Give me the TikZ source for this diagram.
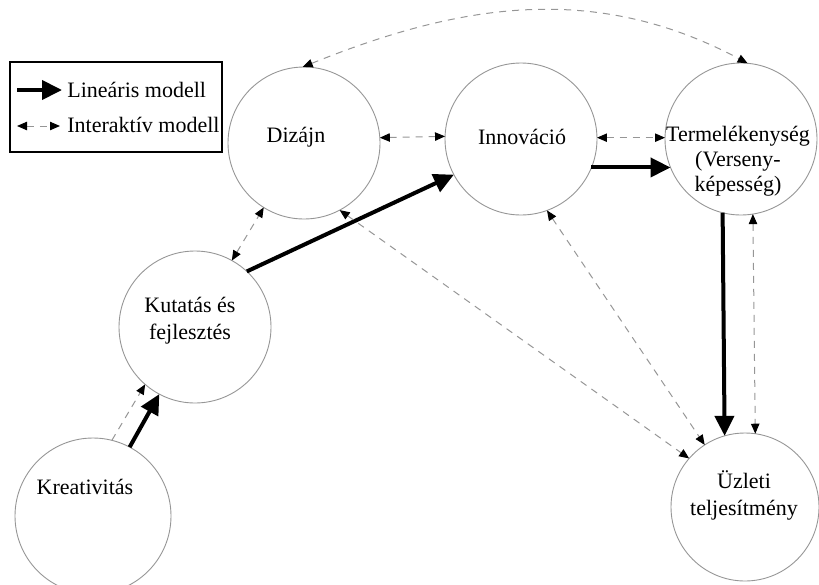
\documentclass[tikz,border=0pt]{standalone}
\usepackage{fontspec}
\setmainfont{Liberation Serif}
\usetikzlibrary{arrows.meta}
\definecolor{circgray}{RGB}{150,150,150}
\definecolor{dashgray}{RGB}{150,150,150}
\begin{document}
\begin{tikzpicture}[x=0.5pt,y=-0.5pt,
  circ/.style={circle,draw=circgray,line width=0.45pt,minimum size=#1,inner sep=0pt,outer sep=0pt},
  lab/.style={font=\fontsize{11}{13.5}\selectfont,align=center,inner sep=0pt},
  lin/.style={draw=black,line width=2pt,-{Triangle[length=10pt,width=9.5pt]}},
  smalltip/.tip={Triangle[length=5pt,width=4.2pt,color=black]},
  inter/.style={draw=dashgray,line width=0.5pt,dash pattern=on 3.5pt off 3pt,smalltip-smalltip},
  interone/.style={draw=dashgray,line width=0.5pt,dash pattern=on 3.5pt off 3pt,-smalltip},
]
\useasboundingbox (0,0) rectangle (819,584);

% circles
\node[circ=78pt] (K) at (93,516) {};
\node[circ=76pt] (R) at (195,327) {};
\node[circ=76pt] (D) at (304,143) {};
\node[circ=76pt] (I) at (521,139) {};
\node[circ=76pt] (T) at (741,139) {};
\node[circ=74pt] (U) at (745,507) {};

% labels
\node[lab] (Kt) at (85,487) {Kreativitás};
\node[lab] (Rt) at (190,321) {Kutatás és\\fejlesztés};
\node[lab] (Dt) at (296,137) {Dizájn};
\node[lab] (It) at (522,137) {Innováció};
\node[lab,font=\fontsize{11}{12.5}\selectfont] (Tt) at (738,161) {Termelékenység\\(Verseny-\\képesség)};
\node[lab] (Ut) at (744,495) {Üzleti\\teljesítmény};

% linear model arrows
\draw[lin] (K.62) -- (R.242);
\draw[lin] (R.47) -- (I.208);
\draw[lin] (I.-22) -- (T.202);
\draw[lin] (T.-104.5) -- (U.106);

% interactive model arrows
\draw[interone] (K.76) -- (R.229);
\draw[inter] (R.61) -- (D.238);
\draw[inter] (D.4) -- (I.178);
\draw[inter] (I.1) -- (T.179);
\draw[inter] (D.91) .. controls +(22:86pt) and +(152:86pt) .. (T.85);
\draw[inter] (I.-70) -- (U.123);
\draw[inter] (D.-62) -- (U.139);
\draw[inter] (T.-81) -- (U.82);

% legend
\node[draw=black,line width=0.7pt,minimum width=106pt,minimum height=45pt,inner sep=0pt] (leg) at (116,107) {};
\coordinate (l1a) at (17,90);
\coordinate (l1b) at (62,90);
\coordinate (l2a) at (17,126);
\coordinate (l2b) at (60,126);
\draw[lin] (l1a) -- (l1b);
\draw[inter] (l2a) -- (l2b);
\node[lab,anchor=west] (lt1) at (67,90) {Lineáris modell};
\node[lab,anchor=west] (lt2) at (67,125) {Interaktív modell};
\end{tikzpicture}
\end{document}
